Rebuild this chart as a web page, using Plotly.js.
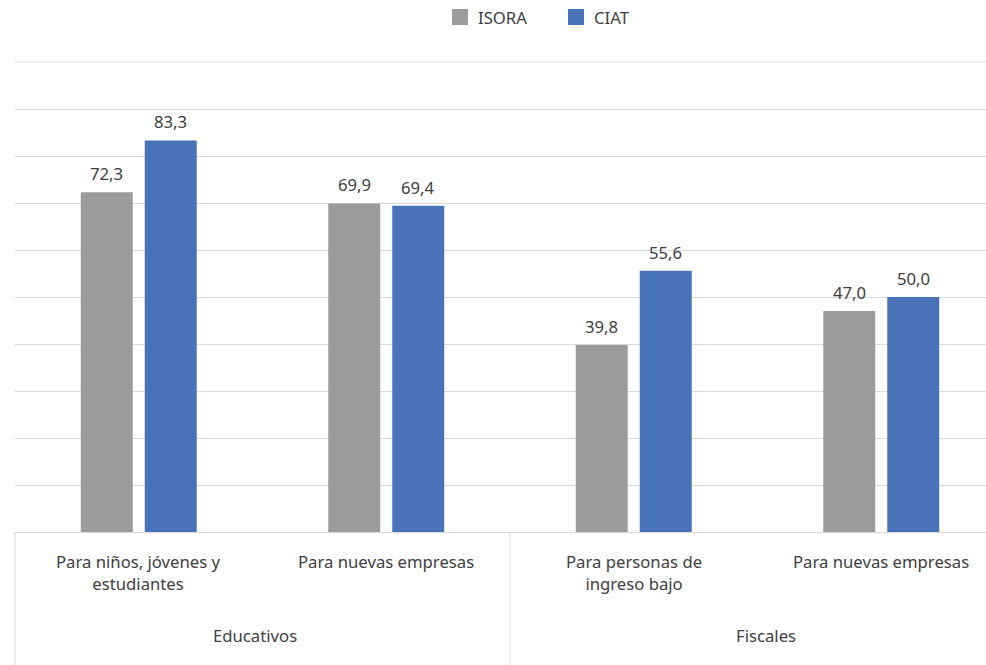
<!DOCTYPE html>
<html>
<head>
<meta charset="utf-8">
<script src="https://cdn.plot.ly/plotly-3.0.1.min.js"></script>
<style>
  html, body { margin: 0; padding: 0; overflow: hidden; background: #fff; }
  #chart { width: 1010px; height: 665px; }
</style>
</head>
<body>
<div id="chart"></div>
<script>
// Grupos de incentivos y sus subcategorías
const groups = ["Educativos", "Educativos", "Fiscales", "Fiscales"];
const subcats = [
  "Para niños, jóvenes y<br>estudiantes",
  "Para nuevas empresas",
  "Para personas de<br>ingreso bajo",
  "Para nuevas empresas"
];
const seriesNames = ["ISORA", "CIAT"];
const isora = [72.3, 69.9, 39.8, 47.0];
const ciat = [83.3, 69.4, 55.6, 50.0];
const colors = ["#9b9b9c", "#4873b9"];

const FONT = "Noto Sans, Open Sans, sans-serif";
const TXT = "#404040";
const GRID = "#d9d9d9";
const FS = 16.7;

// Unique category keys (two subcategories share a label)
const keys = subcats.map((s, i) => groups[i] + "|" + s);

const traces = [isora, ciat].map((vals, k) => ({
  type: "bar",
  name: seriesNames[k],
  x: keys,
  y: vals,
  marker: { color: colors[k] },
  showlegend: false,
  hoverinfo: "name+y"
}));

const fmt = v => v.toFixed(1).replace(".", ",");

// Value labels above each bar
const annotations = [];
[isora, ciat].forEach((vals, k) => {
  vals.forEach((v, i) => {
    annotations.push({
      x: keys[i], y: v, xref: "x", yref: "y",
      text: fmt(v), showarrow: false,
      xanchor: "center", yanchor: "bottom",
      xshift: k === 0 ? -32 : 32, yshift: 5,
      font: { family: FONT, size: FS, color: TXT }
    });
  });
});

// Subcategory labels under the axis
subcats.forEach((s, i) => {
  annotations.push({
    x: keys[i], y: 0, xref: "x", yref: "paper",
    text: s, showarrow: false,
    xanchor: "center", yanchor: "top", yshift: -16,
    font: { family: FONT, size: FS, color: TXT }
  });
});

// Group labels
const groupNames = [...new Set(groups)];
groupNames.forEach((g, j) => {
  annotations.push({
    x: j === 0 ? 0.25 : 0.75, y: 0, xref: "paper", yref: "paper",
    text: g, showarrow: false,
    xanchor: "center", yanchor: "middle", yshift: -103,
    xshift: j === 0 ? -8 : 8,
    font: { family: FONT, size: FS, color: TXT }
  });
});

// Legend built from shapes and text
const shapes = [];
const legendX = [452, 568];
seriesNames.forEach((n, k) => {
  const x0 = (legendX[k] - 15) / 990, x1 = (legendX[k] + 16 - 15) / 990;
  const y0 = (532 - 25) / 470, y1 = (532 - 9) / 470;
  shapes.push({
    type: "rect", xref: "paper", yref: "paper",
    x0: x0, x1: x1, y0: y0, y1: y1,
    fillcolor: colors[k], line: { width: 0 }
  });
  annotations.push({
    x: x1, y: (y0 + y1) / 2, xref: "paper", yref: "paper",
    text: n, showarrow: false, xanchor: "left", yanchor: "middle",
    xshift: 8,
    font: { family: FONT, size: FS, color: TXT }
  });
});

// Top gridline at the edge of the value range
shapes.push({
  type: "line", xref: "paper", yref: "paper",
  x0: 0, x1: 1, y0: 1, y1: 1,
  line: { color: GRID, width: 1 }
});

// Vertical separators of the category box
[0, 0.5].forEach(px => {
  shapes.push({
    type: "line", xref: "paper", yref: "paper",
    x0: px, x1: px, y0: 0, y1: -0.3,
    line: { color: GRID, width: 1 }
  });
});

const layout = {
  width: 1010, height: 665,
  margin: { l: 15, r: 5, t: 62, b: 133 },
  paper_bgcolor: "#fff", plot_bgcolor: "#fff",
  barmode: "group",
  bargap: 0.483,
  bargroupgap: 0.1875,
  showlegend: false,
  xaxis: {
    type: "category",
    showticklabels: false,
    showgrid: false,
    showline: true, linecolor: GRID, linewidth: 1,
    ticks: "",
    range: [-0.5, 3.5],
    fixedrange: true
  },
  yaxis: {
    range: [0, 100], dtick: 10,
    showticklabels: false,
    gridcolor: GRID, gridwidth: 1,
    zeroline: false, ticks: "",
    fixedrange: true
  },
  annotations: annotations,
  shapes: shapes,
  font: { family: FONT, color: TXT }
};

Plotly.newPlot("chart", traces, layout, { displayModeBar: false, staticPlot: true });
</script>
</body>
</html>
